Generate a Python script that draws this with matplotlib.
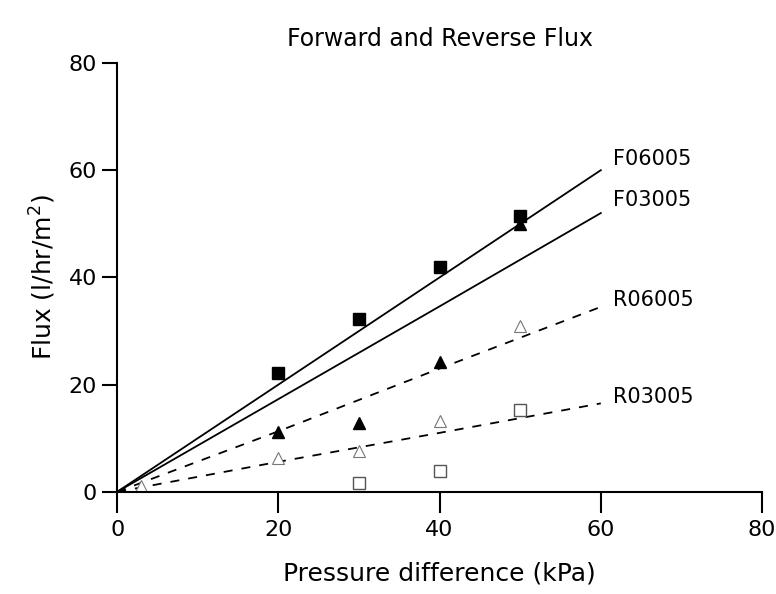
import numpy as np
import matplotlib.pyplot as plt

# measured points
x_f06 = [20, 30, 40, 50]
y_f06 = [22.2, 32.2, 42.0, 51.5]
x_f03 = [50]
y_f03 = [50.0]
x_r06_fill = [20, 30, 40]
y_r06_fill = [11.2, 12.8, 24.2]
x_r06_open = [3, 20, 30, 40, 50]
y_r06_open = [1.0, 6.3, 7.6, 13.3, 31.0]
x_r03 = [30, 40, 50]
y_r03 = [1.6, 3.8, 15.2]

# fitted lines
fit_x = [0, 20, 40, 60]
fit_f06 = [0, 20, 40, 60]
fit_f03 = [0, 17.3, 34.6, 52]
fit_r06 = [0, 11.3, 23.0, 34.5]
fit_r03 = [0, 5.6, 11.0, 16.5]
line_names = ['F06005', 'F03005', 'R06005', 'R03005']
label_y = [62, 54.5, 35.8, 17.6]

fig = plt.figure(figsize=(7.76, 5.94), dpi=100)
ax = fig.add_axes([0.151, 0.172, 0.831, 0.722])

ax.plot(fit_x, fit_f06, color='black', lw=1.3)
ax.plot(fit_x, fit_f03, color='black', lw=1.3)
ax.plot(fit_x, fit_r06, color='black', lw=1.3, linestyle=(0, (5, 5)))
ax.plot(fit_x, fit_r03, color='black', lw=1.3, linestyle=(0, (5, 5)))

ax.plot(x_f06, y_f06, 's', color='black', ms=9)
ax.plot(x_f03, y_f03, '^', color='black', ms=8)
ax.plot(x_r06_fill, y_r06_fill, '^', color='black', ms=8)
ax.plot(x_r06_open, y_r06_open, '^', mfc='white', mec='#777777', ms=8, mew=0.8)
ax.plot(x_r03, y_r03, 's', mfc='white', mec='#555555', ms=9, mew=1.0)

for name, yv in zip(line_names, label_y):
    ax.text(61.5, yv, name, fontsize=15, va='center', ha='left')

ax.set_xlim(0, 80)
ax.set_ylim(0, 80)
ax.set_xticks([0, 20, 40, 60, 80])
ax.set_yticks([0, 20, 40, 60, 80])
ax.spines['top'].set_visible(False)
ax.spines['right'].set_visible(False)
ax.spines['left'].set_linewidth(1.5)
ax.spines['bottom'].set_linewidth(1.5)
ax.tick_params(axis='y', direction='out', length=11, width=1.5, labelsize=16)
ax.tick_params(axis='x', direction='out', length=15, width=1.5, labelsize=16, pad=5)

ax.set_xlabel('Pressure difference (kPa)', fontsize=18, labelpad=16)
ax.set_ylabel('Flux (l/hr/m$^2$)', fontsize=18, labelpad=8)
fig.text(0.567, 0.935, 'Forward and Reverse Flux', fontsize=17, ha='center', va='center')

fig.savefig('out.png', dpi=100)
